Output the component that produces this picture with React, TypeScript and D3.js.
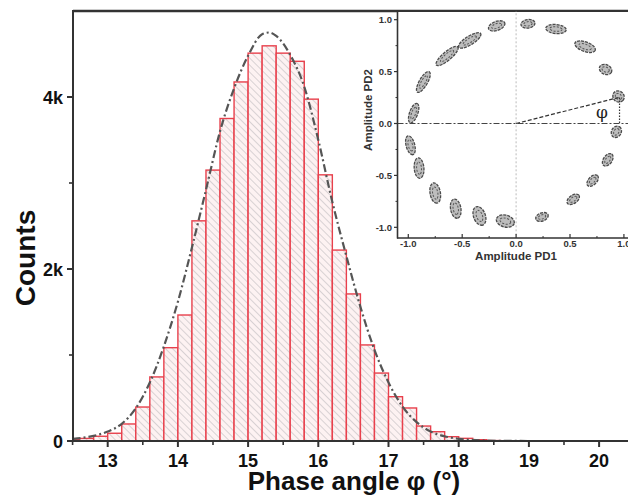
import React from 'react';
import * as d3 from 'd3';

// ---------- data ----------
const binStarts = [12.4, 12.6, 12.8, 13.0, 13.2, 13.4, 13.6, 13.8, 14.0, 14.2, 14.4, 14.6, 14.8, 15.0, 15.2, 15.4, 15.6, 15.8, 16.0, 16.2, 16.4, 16.6, 16.8, 17.0, 17.2, 17.4, 17.6, 17.8, 18.0, 18.2, 18.4];
const counts = [20, 30, 55, 90, 198, 395, 745, 1085, 1465, 2560, 3150, 3750, 4175, 4510, 4595, 4510, 4415, 3975, 3095, 2220, 1710, 1117, 790, 515, 384, 174, 108, 50, 31, 15, 5];
const binWidth = 0.2;

const fitX = [12.5, 12.8, 13.0, 13.2, 13.4, 13.6, 13.8, 14.0, 14.2, 14.4, 14.6, 14.8, 15.0, 15.2, 15.3, 15.4, 15.6, 15.8, 16.0, 16.2, 16.4, 16.6, 16.8, 17.0, 17.2, 17.4, 17.6, 17.8, 18.0, 18.3, 18.6, 19.0];
const fitY = [25, 60, 110, 200, 380, 680, 1100, 1620, 2250, 2920, 3600, 4100, 4480, 4730, 4750, 4710, 4490, 4120, 3500, 2780, 2150, 1560, 1060, 680, 400, 220, 110, 55, 25, 8, 2, 0];

const xTicks = [13, 14, 15, 16, 17, 18, 19, 20];
const xMinorTicks = [12.5, 13.5, 14.5, 15.5, 16.5, 17.5, 18.5, 19.5, 20.5];
const yTicks = [0, 2000, 4000];
const yTickLabels = ['0', '2k', '4k'];
const yMinorTicks = [1000, 3000];

const insetTicks = [-1, -0.5, 0, 0.5, 1];
const insetTickLabels = ['-1.0', '-0.5', '0.0', '0.5', '1.0'];
const insetMinor = [-0.75, -0.25, 0.25, 0.75];

// clusters of the inset (center, semi-axes in amplitude units, orientation in degrees)
const clusterX = [-0.18, 0.11, 0.37, 0.64, 0.83, 0.95, 0.93, 0.85, 0.71, 0.53, 0.24, -0.10, -0.34, -0.56, -0.75, -0.90, -0.98, -0.95, -0.86, -0.64, -0.43];
const clusterY = [0.94, 0.96, 0.91, 0.74, 0.52, 0.26, -0.08, -0.35, -0.55, -0.73, -0.90, -0.94, -0.89, -0.82, -0.67, -0.43, -0.21, 0.10, 0.40, 0.65, 0.80];
const clusterA = [0.08, 0.065, 0.095, 0.10, 0.06, 0.055, 0.055, 0.065, 0.065, 0.065, 0.06, 0.085, 0.09, 0.09, 0.095, 0.095, 0.09, 0.095, 0.11, 0.13, 0.12];
const clusterB = [0.042, 0.04, 0.042, 0.045, 0.045, 0.05, 0.045, 0.04, 0.038, 0.038, 0.038, 0.055, 0.055, 0.048, 0.048, 0.045, 0.04, 0.038, 0.038, 0.04, 0.04];
const clusterAngle = [20, 8, -5, -20, -25, -40, 60, 55, 45, 35, 20, -15, -70, -80, -80, -85, -75, 70, 60, 40, 32];

const phiPoint = [0.95, 0.25];

// ---------- layout ----------
const W = 628;
const H = 498;

export default function App() {
  const x = d3.scaleLinear().domain([12.5, 20.5]).range([72.6, 634.2]);
  const y = d3.scaleLinear().domain([0, 5000]).range([441, 11]);

  const ix = d3.scaleLinear().domain([-1.1, 1.1]).range([397.5, 634.7]);
  const iy = d3.scaleLinear().domain([-1.1, 1.1]).range([237.7, 9.3]);

  const fitLine = d3
    .line<number>()
    .x((_, i) => x(fitX[i]))
    .y((d) => y(d))
    .curve(d3.curveMonotoneX)(fitY);

  const axisColor = '#333';
  const font = 'Liberation Sans, Arial, sans-serif';

  return (
    <svg
      width={W}
      height={H}
      viewBox={`0 0 ${W} ${H}`}
      style={{ position: 'absolute', left: 0, top: 0, background: '#fff' }}
      fontFamily={font}
    >
      <defs>
        <pattern id="hatch" patternUnits="userSpaceOnUse" width="5" height="5" patternTransform="rotate(-45)">
          <rect width="5" height="5" fill="#fdf2f2" />
          <line x1="0" y1="0" x2="0" y2="5" stroke="#b4b0b4" strokeWidth="1" />
        </pattern>
        <clipPath id="mainClip">
          <rect x={73} y={11} width={W - 73} height={430} />
        </clipPath>
        <clipPath id="insetClip">
          <rect x={398} y={11} width={W - 398} height={226} />
        </clipPath>
      </defs>

      {/* bars */}
      <g clipPath="url(#mainClip)">
        {binStarts.map((b, i) => (
          <rect
            key={i}
            x={x(b)}
            y={y(counts[i])}
            width={x(b + binWidth) - x(b)}
            height={y(0) - y(counts[i])}
            fill="url(#hatch)"
            stroke="#e8404c"
            strokeWidth={1.4}
          />
        ))}
        <path d={fitLine || ''} fill="none" stroke="#555" strokeWidth={2.2} strokeDasharray="8,3,2,3" />
      </g>

      {/* main axes */}
      <line x1={73} y1={11} x2={W} y2={11} stroke={axisColor} strokeWidth={2.6} />
      <line x1={73} y1={10} x2={73} y2={442} stroke={axisColor} strokeWidth={2} />
      <line x1={72} y1={441} x2={W} y2={441} stroke={axisColor} strokeWidth={2} />

      {xTicks.map((t) => (
        <g key={t}>
          <line x1={x(t)} y1={441} x2={x(t)} y2={447} stroke={axisColor} strokeWidth={2} />
          <text x={x(t)} y={467} textAnchor="middle" fontSize={18} fontWeight="bold" fill="#111">
            {t}
          </text>
        </g>
      ))}
      {xMinorTicks.map((t) => (
        <line key={t} x1={x(t)} y1={441} x2={x(t)} y2={445} stroke={axisColor} strokeWidth={1.6} />
      ))}
      {yTicks.map((t, i) => (
        <g key={t}>
          <line x1={67} y1={y(t)} x2={73} y2={y(t)} stroke={axisColor} strokeWidth={2} />
          <text x={63} y={y(t) + 6.5} textAnchor="end" fontSize={18} fontWeight="bold" fill="#111">
            {yTickLabels[i]}
          </text>
        </g>
      ))}
      {yMinorTicks.map((t) => (
        <line key={t} x1={69} y1={y(t)} x2={73} y2={y(t)} stroke={axisColor} strokeWidth={1.6} />
      ))}

      <text
        transform={`translate(35,${258}) rotate(-90)`}
        textAnchor="middle"
        fontSize={28}
        fontWeight="bold"
        fill="#111"
      >
        Counts
      </text>
      <text x={354} y={490} textAnchor="middle" fontSize={26} fontWeight="bold" fill="#111">
        Phase angle φ (°)
      </text>

      {/* inset */}
      <rect x={398} y={12} width={W - 398} height={226} fill="#fff" />
      <g clipPath="url(#insetClip)">
        <line x1={ix(0)} y1={iy(1.1)} x2={ix(0)} y2={iy(-1.1)} stroke="#bbb" strokeWidth={1} strokeDasharray="2,2" />
        <line x1={ix(-1.1)} y1={iy(0)} x2={W} y2={iy(0)} stroke="#444" strokeWidth={1.2} strokeDasharray="6,2,2,2" />
        {clusterX.map((cx, i) => {
          const px = ix(cx);
          const py = iy(clusterY[i]);
          const a = ix(clusterA[i]) - ix(0);
          const b = ix(clusterB[i]) - ix(0);
          return (
            <g key={i} transform={`translate(${px},${py}) rotate(${-clusterAngle[i]})`}>
              <ellipse rx={a} ry={b} fill="#bdbdbd" stroke="#4a4a4a" strokeWidth={1.3} strokeDasharray="3,1" />
              <ellipse rx={a * 0.6} ry={b * 0.5} fill="none" stroke="#555" strokeWidth={1} strokeDasharray="2,1.5" />
            </g>
          );
        })}
        <line x1={ix(0)} y1={iy(0)} x2={ix(phiPoint[0])} y2={iy(phiPoint[1])} stroke="#333" strokeWidth={1.2} strokeDasharray="4,2" />
        <line x1={ix(phiPoint[0]) + 1} y1={iy(phiPoint[1])} x2={ix(phiPoint[0]) + 1} y2={iy(0)} stroke="#333" strokeWidth={1.2} strokeDasharray="1.5,1.5" />
        <text x={602} y={118} textAnchor="middle" fontSize={17} fill="#222" fontFamily="DejaVu Serif, serif">
          φ
        </text>
      </g>
      <line x1={397.5} y1={11} x2={397.5} y2={238.5} stroke={axisColor} strokeWidth={1.6} />
      <line x1={397} y1={238} x2={W} y2={238} stroke={axisColor} strokeWidth={1.6} />
      {insetTicks.map((t, i) => (
        <g key={t}>
          <line x1={ix(t)} y1={238} x2={ix(t)} y2={234} stroke={axisColor} strokeWidth={1.2} />
          <text x={ix(t)} y={247} textAnchor="middle" fontSize={9.5} fontWeight="bold" fill="#333">
            {insetTickLabels[i]}
          </text>
          <line x1={394} y1={iy(t)} x2={397.5} y2={iy(t)} stroke={axisColor} strokeWidth={1.2} />
          <text x={392} y={iy(t) + 3.5} textAnchor="end" fontSize={9.5} fontWeight="bold" fill="#333">
            {insetTickLabels[i]}
          </text>
        </g>
      ))}
      {insetMinor.map((t) => (
        <g key={t}>
          <line x1={ix(t)} y1={238} x2={ix(t)} y2={236} stroke={axisColor} strokeWidth={1} />
          <line x1={395.5} y1={iy(t)} x2={397.5} y2={iy(t)} stroke={axisColor} strokeWidth={1} />
        </g>
      ))}
      <text x={516} y={260} textAnchor="middle" fontSize={11.5} fontWeight="bold" fill="#333">
        Amplitude PD1
      </text>
      <text
        transform={`translate(372,${110}) rotate(-90)`}
        textAnchor="middle"
        fontSize={11.5}
        fontWeight="bold"
        fill="#333"
      >
        Amplitude PD2
      </text>
    </svg>
  );
}
